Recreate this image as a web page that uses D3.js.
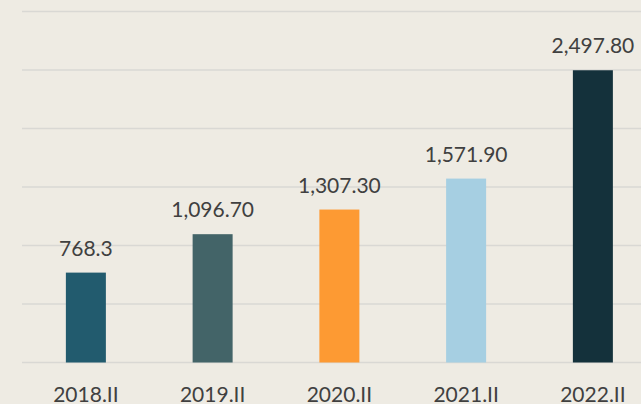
<!DOCTYPE html>
<html>
<head>
<meta charset="utf-8">
<script src="https://cdn.jsdelivr.net/npm/d3@7"></script>
<style>
html,body{margin:0;padding:0;background:#EEEBE3;}
svg{display:block;}
text{font-family:Lato,"Open Sans",sans-serif;fill:#404040;}
</style>
</head>
<body>
<svg id="chart" width="641" height="404"></svg>
<script>
const categories = ["2018.II","2019.II","2020.II","2021.II","2022.II"];
const values = [768.3, 1096.7, 1307.3, 1571.9, 2497.8];
const valueLabels = ["768.3","1,096.70","1,307.30","1,571.90","2,497.80"];
const colors = ["#225B6E","#436468","#FD9A33","#A6CFE2","#14313B"];
const gridTicks = [0,500,1000,1500,2000,2500,3000];

const W = 641, H = 404;
const svg = d3.select("#chart");
svg.append("rect").attr("width",W).attr("height",H).attr("fill","#EEEBE3");

const x = d3.scaleBand().domain(categories).range([22.5,656.25]).paddingInner(0.6844).paddingOuter(0.3422);
const y = d3.scaleLinear().domain([0,3000]).range([362.5,11.5]);

svg.append("g").selectAll("line").data(gridTicks).join("line")
  .attr("x1",22).attr("x2",656)
  .attr("y1",d=>y(d)).attr("y2",d=>y(d))
  .attr("stroke","#D9D8D4").attr("stroke-width",1.5);

svg.append("g").selectAll("rect").data(values).join("rect")
  .attr("x",(d,i)=>x(categories[i]))
  .attr("width",x.bandwidth())
  .attr("y",d=>y(d))
  .attr("height",d=>y(0)-y(d))
  .attr("fill",(d,i)=>colors[i]);

svg.append("g").selectAll("text").data(values).join("text")
  .attr("x",(d,i)=>x(categories[i])+x.bandwidth()/2)
  .attr("y",d=>y(d)-17)
  .attr("text-anchor","middle")
  .attr("font-size",21)
  .text((d,i)=>valueLabels[i]);

svg.append("g").selectAll("text").data(categories).join("text")
  .attr("x",d=>x(d)+x.bandwidth()/2)
  .attr("y",402)
  .attr("text-anchor","middle")
  .attr("font-size",21)
  .text(d=>d);
</script>
</body>
</html>
